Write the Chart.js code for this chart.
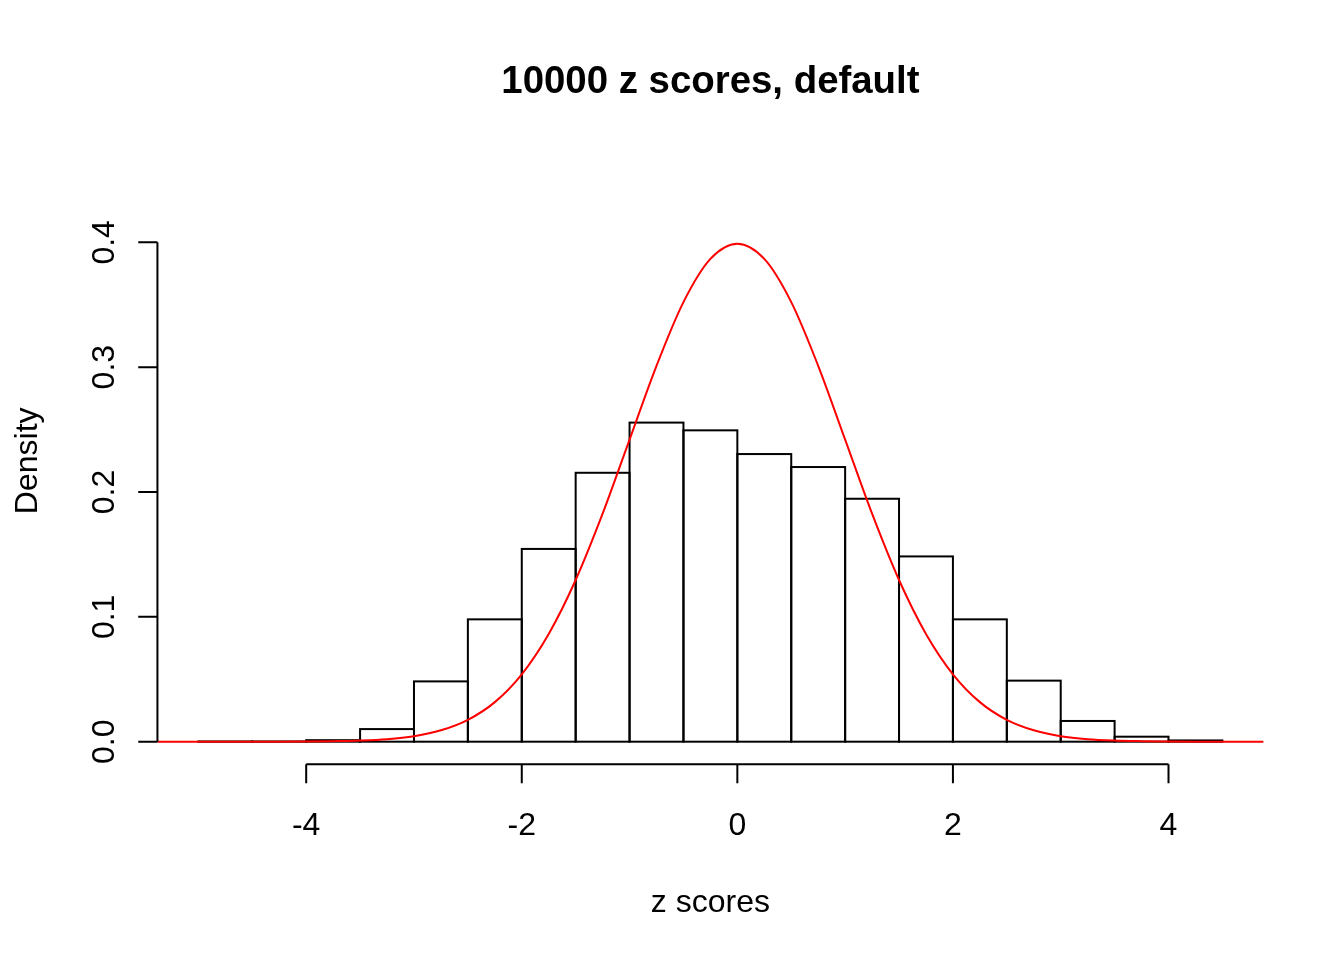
<!DOCTYPE html>
<html>
<head>
<meta charset="utf-8">
<title>10000 z scores, default</title>
<script src="https://cdn.jsdelivr.net/npm/chart.js@4.4.1/dist/chart.umd.min.js"></script>
<style>
  html, body { margin: 0; padding: 0; background: #ffffff; }
  #wrap { width: 1344px; height: 960px; }
</style>
</head>
<body>
<div id="wrap"><canvas id="hist" width="1344" height="960"></canvas></div>
<script>
// Histogram bin edges (width 0.5) and the density of each bin
const binEdges = [-5, -4.5, -4, -3.5, -3, -2.5, -2, -1.5, -1, -0.5, 0, 0.5, 1, 1.5, 2, 2.5, 3, 3.5, 4, 4.5];
const binDensity = [0.0002, 0.0002, 0.0012, 0.0101, 0.0483, 0.0980, 0.1544, 0.2154, 0.2556, 0.2494,
                    0.2304, 0.2200, 0.1946, 0.1484, 0.0980, 0.0489, 0.0166, 0.0040, 0.0010];

// Standard normal density curve, sampled every 0.25
const curveX = [-5.5, -5.25, -5, -4.75, -4.5, -4.25, -4, -3.75, -3.5, -3.25, -3, -2.75, -2.5, -2.25, -2, -1.75,
                -1.5, -1.25, -1, -0.75, -0.5, -0.25, 0, 0.25, 0.5, 0.75, 1, 1.25, 1.5, 1.75, 2, 2.25, 2.5,
                2.75, 3, 3.25, 3.5, 3.75, 4, 4.25, 4.5, 4.75, 5];
const curveY = [0, 0, 0, 0, 0, 0, 0.0001, 0.0004, 0.0009, 0.0020, 0.0044, 0.0091, 0.0175, 0.0317, 0.0540, 0.0863,
                0.1295, 0.1826, 0.2420, 0.3011, 0.3521, 0.3867, 0.3989, 0.3867, 0.3521, 0.3011, 0.2420, 0.1826,
                0.1295, 0.0863, 0.0540, 0.0317, 0.0175, 0.0091, 0.0044, 0.0020, 0.0009, 0.0004, 0.0001, 0, 0, 0, 0];

// Axis ticks and labels
const xTicks = [-4, -2, 0, 2, 4];
const xTickLabels = ['-4', '-2', '0', '2', '4'];
const yTicks = [0, 0.1, 0.2, 0.3, 0.4];
const yTickLabels = ['0.0', '0.1', '0.2', '0.3', '0.4'];

const titleText = '10000 z scores, default';
const xTitle = 'z scores';
const yTitle = 'Density';

const FONT = '"Liberation Sans", Arial, Helvetica, sans-serif';
const LINE = 38.4;         // one margin line in px
const TICK_LEN = LINE / 2; // tick length

const barPoints = binDensity.map((d, i) => ({ x: (binEdges[i] + binEdges[i + 1]) / 2, y: d }));
const curvePoints = curveX.map((v, i) => ({ x: v, y: curveY[i] }));

// Outline every bar as a rectangle centred on its edges (empty bins become a flat line)
const barOutline = {
  id: 'barOutline',
  afterDatasetDraw(chart, args) {
    const meta = args.meta;
    if (meta.type !== 'bar') return;
    const ctx = chart.ctx;
    ctx.save();
    ctx.strokeStyle = '#000000';
    ctx.lineWidth = 2;
    meta.data.forEach(el => {
      const { x, y, base, width } = el.getProps(['x', 'y', 'base', 'width'], true);
      ctx.strokeRect(x - width / 2, y, width, base - y);
    });
    ctx.restore();
  }
};

// Base-graphics style axes, title and labels
const baseAxes = {
  id: 'baseAxes',
  afterDraw(chart) {
    const { ctx, chartArea, scales: { x, y } } = chart;
    ctx.save();
    ctx.strokeStyle = '#000000';
    ctx.fillStyle = '#000000';
    ctx.lineWidth = 2;

    // bottom axis
    const yb = chartArea.bottom;
    ctx.beginPath();
    ctx.moveTo(x.getPixelForValue(xTicks[0]), yb);
    ctx.lineTo(x.getPixelForValue(xTicks[xTicks.length - 1]), yb);
    xTicks.forEach(v => {
      const px = x.getPixelForValue(v);
      ctx.moveTo(px, yb);
      ctx.lineTo(px, yb + TICK_LEN);
    });
    ctx.stroke();
    ctx.font = '32px ' + FONT;
    ctx.textAlign = 'center';
    ctx.textBaseline = 'alphabetic';
    xTicks.forEach((v, i) => {
      ctx.fillText(xTickLabels[i], x.getPixelForValue(v), yb + 2 * LINE - 6);
    });

    // left axis
    const xl = chartArea.left;
    ctx.beginPath();
    ctx.moveTo(xl, y.getPixelForValue(yTicks[0]));
    ctx.lineTo(xl, y.getPixelForValue(yTicks[yTicks.length - 1]));
    yTicks.forEach(v => {
      const py = y.getPixelForValue(v);
      ctx.moveTo(xl, py);
      ctx.lineTo(xl - TICK_LEN, py);
    });
    ctx.stroke();
    yTicks.forEach((v, i) => {
      ctx.save();
      ctx.translate(xl - LINE - 5, y.getPixelForValue(v));
      ctx.rotate(-Math.PI / 2);
      ctx.fillText(yTickLabels[i], 0, 0);
      ctx.restore();
    });

    const cx = (chartArea.left + chartArea.right) / 2;
    const cy = (chartArea.top + chartArea.bottom) / 2;

    // axis titles
    ctx.fillText(xTitle, cx, yb + 4 * LINE - 6);
    ctx.save();
    ctx.translate(xl - 3 * LINE - 5, cy);
    ctx.rotate(-Math.PI / 2);
    ctx.fillText(yTitle, 0, 0);
    ctx.restore();

    // main title
    ctx.font = 'bold 38.4px ' + FONT;
    ctx.fillText(titleText, cx, 93);
    ctx.restore();
  }
};

new Chart(document.getElementById('hist'), {
  type: 'bar',
  data: {
    datasets: [
      {
        type: 'line',
        label: 'dnorm',
        data: curvePoints,
        borderColor: '#ff0000',
        borderWidth: 2,
        pointRadius: 0,
        cubicInterpolationMode: 'monotone',
        fill: false,
        order: 0,
        clip: 0
      },
      {
        type: 'bar',
        label: 'density',
        data: barPoints,
        backgroundColor: '#ffffff',
        borderWidth: 0,
        inflateAmount: 0,
        barPercentage: 1,
        categoryPercentage: 1,
        order: 1
      }
    ]
  },
  options: {
    responsive: false,
    animation: false,
    devicePixelRatio: 1,
    layout: { padding: { left: 157.44, right: 80.64, top: 157.44, bottom: 195.84 } },
    plugins: {
      legend: { display: false },
      title: { display: false },
      tooltip: { enabled: false }
    },
    scales: {
      x: {
        type: 'linear',
        min: -5.38,
        max: 4.88,
        offset: false,
        display: false,
        afterBuildTicks: scale => { scale.ticks = xTicks.map(v => ({ value: v })); }
      },
      y: {
        type: 'linear',
        min: -0.018,
        max: 0.468,
        display: false,
        afterBuildTicks: scale => { scale.ticks = yTicks.map(v => ({ value: v })); }
      }
    }
  },
  plugins: [barOutline, baseAxes]
});
</script>
</body>
</html>
